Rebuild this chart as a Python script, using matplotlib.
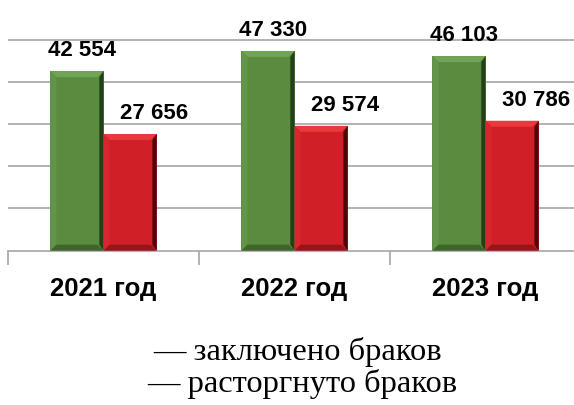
import numpy as np
from matplotlib import pyplot as plt
from matplotlib.patches import Polygon

years = ['2021 год', '2022 год', '2023 год']
concluded = [42554, 47330, 46103]
dissolved = [27656, 29574, 30786]
legend_lines = ['— заключено браков', '— расторгнуто браков']

lab_font = dict(fontsize=16, fontweight='bold', family='Liberation Sans')
cat_font = dict(fontsize=18.5, fontweight='bold', family='Liberation Sans')

fig = plt.figure(figsize=(5.74, 4.05), dpi=100)
# axes spans a bit past the right edge, like in the source picture
ax = fig.add_axes([8 / 574, 1 - 250.7 / 405, 573 / 574, 250.7 / 405])

x = np.arange(len(years))
w = 0.278
ymax = 59400
ax.set_xlim(-0.5, 2.5)
ax.set_ylim(0, ymax)

bx = 6 / 191
by = 6 / 42.2 * 10000


def bevel(rect, top, left, right, bottom):
    x0, y0 = rect.get_x(), rect.get_y()
    x1, y1 = x0 + rect.get_width(), y0 + rect.get_height()
    pts = {
        top: [(x0, y1), (x1, y1), (x1 - bx, y1 - by), (x0 + bx, y1 - by)],
        left: [(x0, y0), (x0, y1), (x0 + bx, y1 - by), (x0 + bx, y0 + by)],
        right: [(x1, y0), (x1, y1), (x1 - bx * 0.7, y1 - by), (x1 - bx * 0.7, y0 + by)],
        bottom: [(x0, y0), (x1, y0), (x1 - bx, y0 + by), (x0 + bx, y0 + by)],
    }
    for c, p in pts.items():
        ax.add_patch(Polygon(p, closed=True, facecolor=c, edgecolor='none', zorder=3))


g = ax.bar(x - w / 2, concluded, w, color='#5a8b3f', zorder=2)
r = ax.bar(x + w / 2, dissolved, w, color='#d11f27', zorder=2)
for b in g:
    bevel(b, '#72a456', '#62944a', '#24401a', '#3f652c')
for b in r:
    bevel(b, '#e8393d', '#d7262d', '#4a0808', '#961519')

for b, v in zip(g, concluded):
    ax.annotate(f'{v:,}'.replace(',', ' '), (b.get_x() + b.get_width() / 2, v),
                xytext=(3.6, 7), textcoords='offset points', ha='center', va='bottom',
                **lab_font)
for b, v in zip(r, dissolved):
    ax.annotate(f'{v:,}'.replace(',', ' '), (b.get_x() + b.get_width() / 2, v),
                xytext=(17.5, 7), textcoords='offset points', ha='center', va='bottom',
                **lab_font)

ax.set_yticks(np.arange(10000, 60000, 10000))
ax.yaxis.grid(True, color='#a6a6a6', linewidth=1.2, zorder=0)
ax.set_axisbelow(True)
ax.tick_params(axis='y', length=0, labelleft=False)

ax.set_xticks([-0.5, 0.5, 1.5, 2.5])
ax.set_xticklabels([])
ax.tick_params(axis='x', which='major', direction='out', length=10, width=1.2, color='#a6a6a6')
ax.set_xticks(x, minor=True)
ax.set_xticklabels(years, minor=True, **cat_font)
ax.tick_params(axis='x', which='minor', length=0, pad=19)

for s in ['top', 'right', 'left']:
    ax.spines[s].set_visible(False)
ax.spines['bottom'].set_color('#a6a6a6')
ax.spines['bottom'].set_linewidth(1.2)

fig.text(0.519, 1 - 352 / 405, legend_lines[0], ha='center', va='center',
         fontsize=23.4, family='Liberation Serif')
fig.text(0.527, 1 - 384 / 405, legend_lines[1], ha='center', va='center',
         fontsize=23.4, family='Liberation Serif')

fig.savefig('out.png', dpi=100)
